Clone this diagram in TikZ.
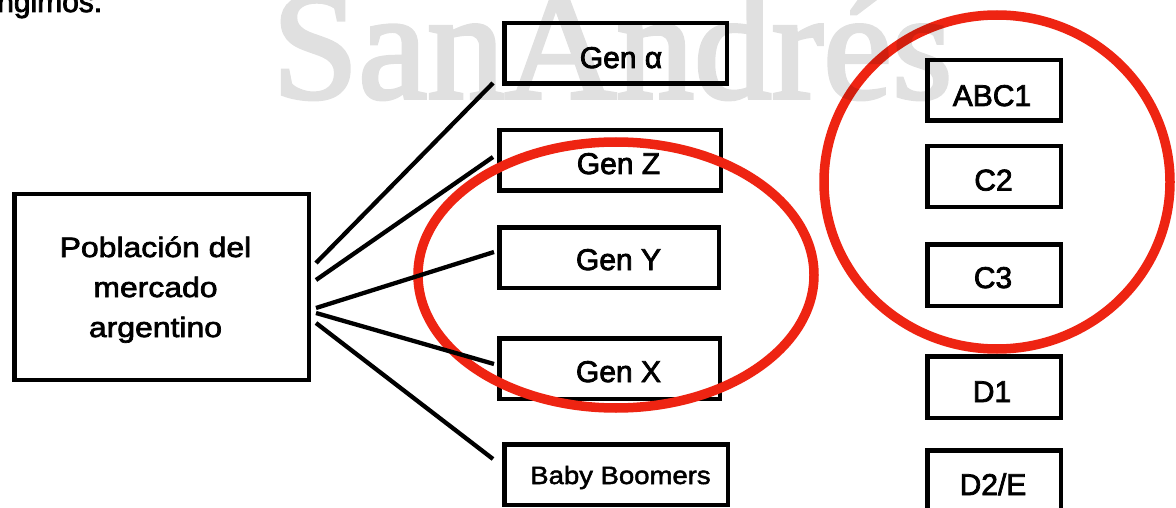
\documentclass[tikz,border=0pt]{standalone}
\usepackage{fontspec}
\usetikzlibrary{shapes.geometric}
\setmainfont{Liberation Sans}[FakeBold=2.5]
\newfontfamily\wmfont[FakeBold=2.5]{Liberation Serif}
\newfontfamily\widesans[FakeStretch=1.14,FakeBold=2.5]{Liberation Sans}
\newfontfamily\babysans[FakeStretch=1.10,FakeBold=2]{Liberation Sans}
\definecolor{redring}{RGB}{238,36,18}
\tikzset{
  box/.style={draw=black, line width=4.5pt, inner sep=0pt, fill=none},
  lbl/.style={anchor=base, inner sep=0pt, font=\fontsize{30}{36}\selectfont},
  conn/.style={draw=black, line width=4.3pt},
  ring/.style={draw=redring, line width=9.5pt},
}
\begin{document}
\begin{tikzpicture}[x=1pt,y=-1pt]
\useasboundingbox (0,0) rectangle (1176,508);
\clip (0,0) rectangle (1176,508);
\fill[white] (0,0) rectangle (1176,508);

% stray text at top left
\node[anchor=base west, inner sep=0pt, font=\fontsize{30}{36}\selectfont] (top) at (-3,12) {ngimos.};

% boxes
\node[box, minimum width=294.5pt, minimum height=185.5pt] (main) at (161.5,287) {};
\node[box, minimum width=222.5pt, minimum height=60.5pt] (ga) at (615.5,53.5) {};
\node[box, minimum width=221.5pt, minimum height=60.5pt] (gz) at (610,160.5) {};
\node[box, minimum width=219.5pt, minimum height=60.5pt] (gy) at (609,257.5) {};
\node[box, minimum width=220.5pt, minimum height=60.5pt] (gx) at (609.5,368.5) {};
\node[box, minimum width=223.5pt, minimum height=60.5pt] (bb) at (616,474.5) {};
\node[box, minimum width=133.5pt, minimum height=60.5pt] (abc) at (994,90.5) {};
\node[box, minimum width=133.5pt, minimum height=60.5pt] (c2) at (994,176.5) {};
\node[box, minimum width=133.5pt, minimum height=61.5pt] (c3) at (994,275) {};
\node[box, minimum width=133.5pt, minimum height=61.5pt] (d1) at (994,387) {};
\node[box, minimum width=133.5pt, minimum height=60.5pt] (d2) at (994,480.5) {};

% labels
\node[anchor=base, inner sep=0pt, align=center, font=\widesans\fontsize{28}{40}\selectfont] (maint) at (155.5,337) {Población del\\mercado\\argentino};
\node[lbl] (gat) at (621,68) {Gen α};
\node[lbl] (gzt) at (618.5,174) {Gen Z};
\node[lbl] (gyt) at (618.5,270) {Gen Y};
\node[lbl] (gxt) at (618.5,382) {Gen X};
\node[lbl, font=\babysans\fontsize{25}{30}\selectfont] (bbt) at (620.5,484) {Baby Boomers};
\node[lbl] (abct) at (992,106) {ABC1};
\node[lbl] (c2t) at (993.5,190.5) {C2};
\node[lbl] (c3t) at (993,288) {C3};
\node[lbl] (d1t) at (992,402) {D1};
\node[lbl] (d2t) at (993,495) {D2/E};

% red rings
\node[ring, ellipse, minimum width=396pt, minimum height=266pt, inner sep=0pt] (ring1) at (616,275) {};
\node[ring, ellipse, minimum width=346pt, minimum height=334pt, inner sep=0pt] (ring2) at (997,182) {};

% connector end points
\coordinate (m1) at (316,263);
\coordinate (m2) at (316,280);
\coordinate (m3) at (316,308);
\coordinate (m4) at (316,313);
\coordinate (m5) at (316,323);
\coordinate (e1) at (493,83);
\coordinate (e2) at (493,157);
\coordinate (e3) at (494,252);
\coordinate (e4) at (494,364);
\coordinate (e5) at (493,459);
\draw[conn] (m1) -- (e1);
\draw[conn] (m2) -- (e2);
\draw[conn] (m3) -- (e3);
\draw[conn] (m4) -- (e4);
\draw[conn] (m5) -- (e5);

% watermark
\begin{scope}[transparency group, opacity=0.12]
\node[anchor=base west, inner sep=0pt, text=black, font=\wmfont\fontsize{155}{160}\selectfont] (wm) at (272,98) {SanAndrés};
\end{scope}
\end{tikzpicture}
\end{document}
